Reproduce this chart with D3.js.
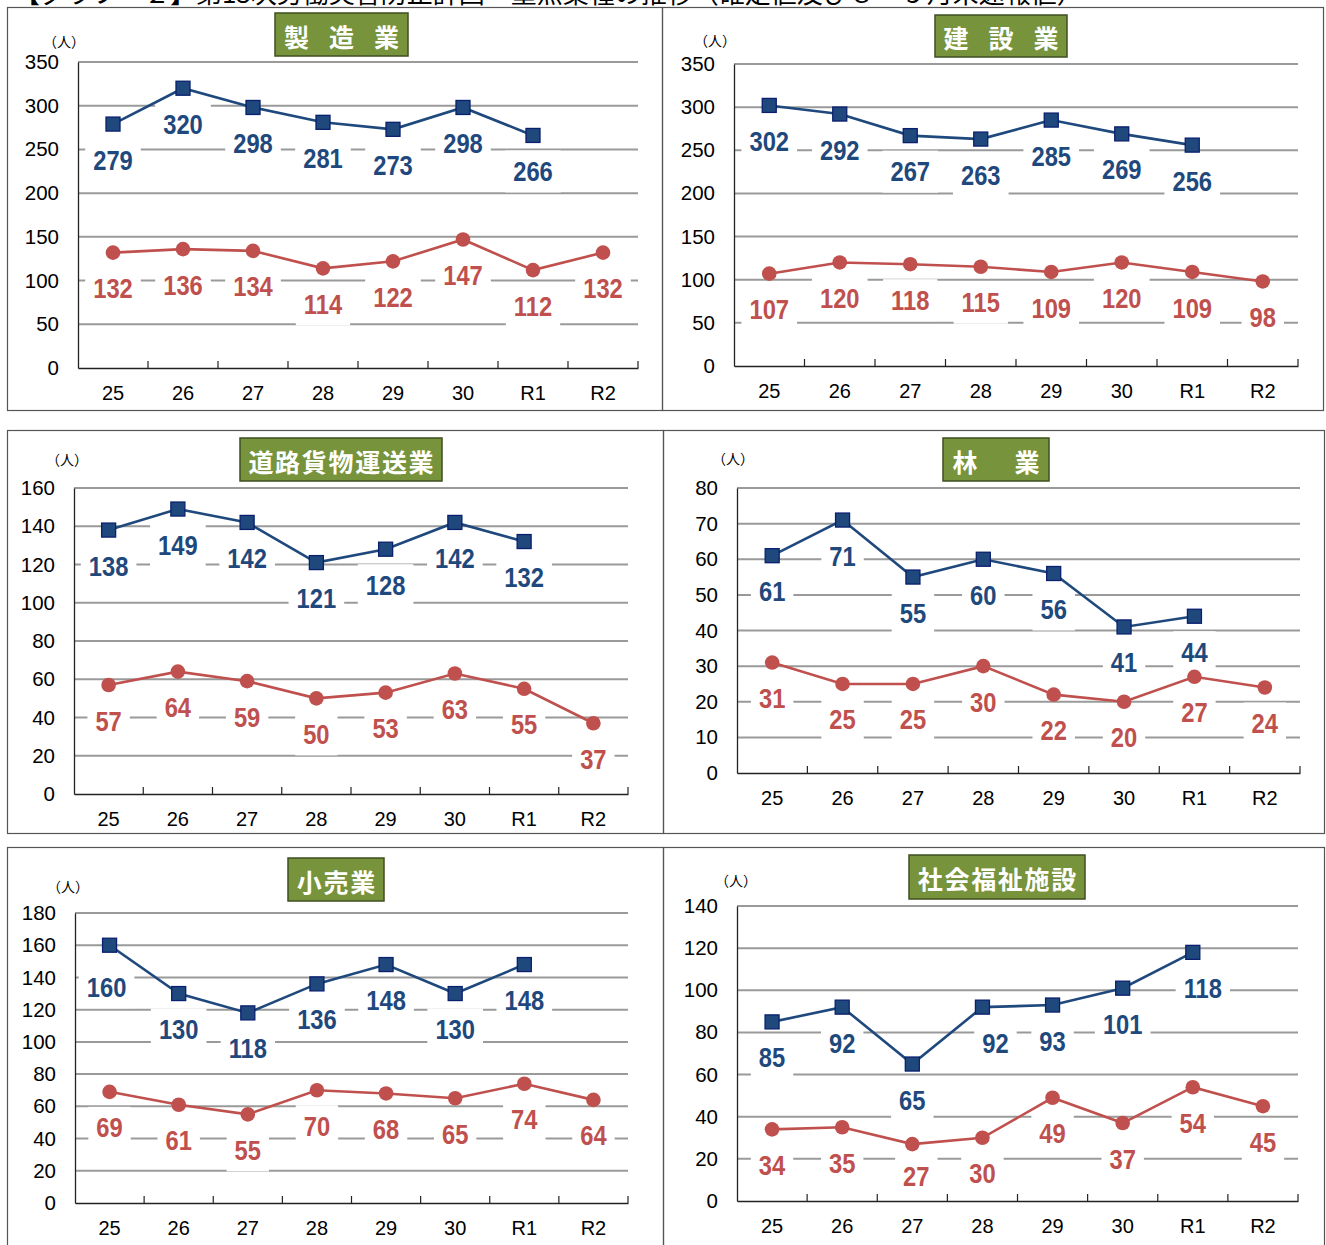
<!DOCTYPE html>
<html>
<head>
<meta charset="utf-8">
<script src="https://cdn.jsdelivr.net/npm/d3@7"></script>
<style>
  body { margin: 0; background: #fff; }
  svg text { font-family: "Liberation Sans", Arial, sans-serif; }
</style>
</head>
<body>
<div id="chart"></div>
<script>
const W = 1326, H = 1245;

// fiscal years (Heisei 25..30, Reiwa 1..2)
const years = ["25", "26", "27", "28", "29", "30", "R1", "R2"];

// blue = upper series, red = lower series (no blue value for R2)
const manufacturingBlue = [279, 320, 298, 281, 273, 298, 266, null];
const manufacturingRed  = [132, 136, 134, 114, 122, 147, 112, 132];
const constructionBlue  = [302, 292, 267, 263, 285, 269, 256, null];
const constructionRed   = [107, 120, 118, 115, 109, 120, 109, 98];
const truckingBlue      = [138, 149, 142, 121, 128, 142, 132, null];
const truckingRed       = [57, 64, 59, 50, 53, 63, 55, 37];
const forestryBlue      = [61, 71, 55, 60, 56, 41, 44, null];
const forestryRed       = [31, 25, 25, 30, 22, 20, 27, 24];
const retailBlue        = [160, 130, 118, 136, 148, 130, 148, null];
const retailRed         = [69, 61, 55, 70, 68, 65, 74, 64];
const welfareBlue       = [85, 92, 65, 92, 93, 101, 118, null];
const welfareRed        = [34, 35, 27, 30, 49, 37, 54, 45];

// y axis tick labels
const ticks350 = [0, 50, 100, 150, 200, 250, 300, 350];
const ticks160 = [0, 20, 40, 60, 80, 100, 120, 140, 160];
const ticks80  = [0, 10, 20, 30, 40, 50, 60, 70, 80];
const ticks180 = [0, 20, 40, 60, 80, 100, 120, 140, 160, 180];
const ticks140 = [0, 20, 40, 60, 80, 100, 120, 140];

const headerText = "【グラフ－２】第13次労働災害防止計画・重点業種の推移（確定値及び８・９月末速報値）";

const blue = "#1f497d", red = "#c0504d";
const gridColor = "#9a9a9a";

// layout: frame [x0,y0,x1,y1], plot [left,top,right,bottom], title box, unit label position
const panels = [
  { title: "製造業", pitch: 45, blue: manufacturingBlue, red: manufacturingRed, ticks: ticks350,
    frame: [7, 7, 662, 410], plot: [78, 62, 638, 368], box: [275, 13, 408, 56], unit: [64, 41] },
  { title: "建設業", pitch: 45, blue: constructionBlue, red: constructionRed, ticks: ticks350,
    frame: [662, 7, 1323, 410], plot: [734, 64, 1298, 366], box: [935, 15, 1067, 57], unit: [715, 40] },
  { title: "道路貨物運送業", pitch: 26.7, blue: truckingBlue, red: truckingRed, ticks: ticks160,
    frame: [7, 430, 663, 833], plot: [74, 488, 628, 794], box: [240, 438, 442, 481], unit: [67, 459] },
  { title: "林業", pitch: 62, blue: forestryBlue, red: forestryRed, ticks: ticks80,
    frame: [663, 430, 1324, 833], plot: [737, 488, 1300, 773], box: [943, 438, 1049, 481], unit: [733, 458] },
  { title: "小売業", pitch: 26.7, blue: retailBlue, red: retailRed, ticks: ticks180,
    frame: [7, 847, 663, 1252], plot: [75, 913, 628, 1203], box: [288, 858, 384, 901], unit: [68, 886],
    shift: { blue: { 0: [-3, 6] } } },
  { title: "社会福祉施設", pitch: 26.7, blue: welfareBlue, red: welfareRed, ticks: ticks140,
    frame: [663, 847, 1324, 1252], plot: [737, 906, 1298, 1201], box: [909, 855, 1085, 899], unit: [736, 880],
    shift: { blue: { 3: [13, 0], 6: [10, 0] }, red: { 2: [4, -4] } } }
];

const svg = d3.select("#chart").append("svg")
    .attr("width", W)
    .attr("height", H);

svg.append("rect").attr("width", W).attr("height", H).attr("fill", "#fff");

// header (mostly cut off at the top edge, as in the source)
svg.append("text")
    .attr("x", 14)
    .attr("y", 3)
    .style("font-family", "'Noto Sans CJK JP', sans-serif")
    .style("font-size", "26px")
    .attr("fill", "#000")
    .text(headerText);

panels.forEach(p => {
    const [fx0, fy0, fx1, fy1] = p.frame;
    const [left, top, right, bottom] = p.plot;
    const g = svg.append("g");

    g.append("rect")
        .attr("x", fx0 + 0.5).attr("y", fy0 + 0.5)
        .attr("width", fx1 - fx0).attr("height", fy1 - fy0)
        .attr("fill", "none")
        .attr("stroke", "#555")
        .attr("stroke-width", 1.2);

    const x = d3.scaleBand().domain(years).range([left, right]);
    const y = d3.scaleLinear().domain([0, d3.max(p.ticks)]).range([bottom, top]);
    const cx = d => x(d) + x.bandwidth() / 2;

    // gridlines
    g.append("g").selectAll("line")
        .data(p.ticks.filter(t => t > 0))
        .enter().append("line")
        .attr("x1", left).attr("x2", right)
        .attr("y1", d => y(d)).attr("y2", d => y(d))
        .attr("stroke", gridColor)
        .attr("stroke-width", 2);

    // y axis
    const yAxis = g.append("g")
        .attr("transform", `translate(${left},0)`)
        .call(d3.axisLeft(y).tickValues(p.ticks).tickSize(0).tickPadding(19));
    yAxis.select(".domain").attr("stroke", "#222").attr("stroke-width", 1.3);
    yAxis.selectAll("text").style("font-size", "20.5px").attr("fill", "#000");

    // x axis with ticks pointing up at category boundaries
    const xAxis = g.append("g")
        .attr("transform", `translate(0,${bottom})`)
        .call(d3.axisBottom(x).tickSize(0).tickPadding(18));
    xAxis.select(".domain").attr("stroke", "#222").attr("stroke-width", 1.3);
    xAxis.selectAll("text").style("font-size", "20px").attr("fill", "#000");
    g.append("g").selectAll("line")
        .data(years)
        .enter().append("line")
        .attr("x1", d => x(d) + x.bandwidth()).attr("x2", d => x(d) + x.bandwidth())
        .attr("y1", bottom).attr("y2", bottom - 7)
        .attr("stroke", "#222")
        .attr("stroke-width", 1.2);

    // unit label
    g.append("text")
        .attr("x", p.unit[0]).attr("y", p.unit[1])
        .attr("text-anchor", "middle")
        .attr("dominant-baseline", "central")
        .style("font-family", "'Noto Sans CJK JP', sans-serif")
        .style("font-size", "14px")
        .text("（人）");

    // title box
    const [bx0, by0, bx1, by1] = p.box;
    g.append("rect")
        .attr("x", bx0).attr("y", by0)
        .attr("width", bx1 - bx0).attr("height", by1 - by0)
        .attr("fill", "#77933c")
        .attr("stroke", "#3f4f20")
        .attr("stroke-width", 1.5);
    const chars = Array.from(p.title);
    const bcx = (bx0 + bx1) / 2;
    g.append("g").selectAll("text")
        .data(chars)
        .enter().append("text")
        .attr("x", (d, i) => bcx + (i - (chars.length - 1) / 2) * p.pitch)
        .attr("y", (by0 + by1) / 2 + 1)
        .attr("text-anchor", "middle")
        .attr("dominant-baseline", "central")
        .style("font-family", "'Noto Sans CJK JP', sans-serif")
        .style("font-size", "25px")
        .style("font-weight", "700")
        .attr("fill", "#fff")
        .text(d => d);

    const boxLayer = g.append("g");
    const seriesLayer = g.append("g");
    const labelLayer = g.append("g");

    const series = [
        { key: "blue", values: p.blue, color: blue },
        { key: "red", values: p.red, color: red }
    ];

    series.forEach(s => {
        const pts = years.map((yr, i) => ({ yr, i, v: s.values[i] })).filter(d => d.v != null);
        const line = d3.line().x(d => cx(d.yr)).y(d => y(d.v));

        seriesLayer.append("path")
            .datum(pts)
            .attr("d", line)
            .attr("fill", "none")
            .attr("stroke", s.color)
            .attr("stroke-width", 2.6);

        if (s.key === "blue") {
            seriesLayer.selectAll(null)
                .data(pts)
                .enter().append("rect")
                .attr("x", d => cx(d.yr) - 7).attr("y", d => y(d.v) - 7)
                .attr("width", 14).attr("height", 14)
                .attr("fill", blue)
                .attr("stroke", "#0a1f6e")
                .attr("stroke-width", 1.3);
        } else {
            seriesLayer.selectAll(null)
                .data(pts)
                .enter().append("circle")
                .attr("cx", d => cx(d.yr)).attr("cy", d => y(d.v))
                .attr("r", 7.3)
                .attr("fill", red);
        }

        // data labels: bold, slightly condensed, on a white patch that breaks the gridlines
        const shifts = (p.shift && p.shift[s.key]) || {};
        pts.forEach(d => {
            const sh = shifts[d.i] || [0, 0];
            const lx = cx(d.yr) + sh[0];
            const ly = y(d.v) + 36 + sh[1];
            const t = labelLayer.append("text")
                .attr("transform", `translate(${lx},${ly}) scale(0.88,1)`)
                .attr("text-anchor", "middle")
                .attr("dominant-baseline", "central")
                .style("font-size", "27px")
                .style("font-weight", "700")
                .attr("fill", s.color)
                .text(d.v);
            const w = t.node().getComputedTextLength() * 0.88;
            boxLayer.append("rect")
                .attr("x", lx - w / 2 - 8).attr("y", ly - 21)
                .attr("width", w + 16).attr("height", 42)
                .attr("fill", "#fff");
        });
    });
});
</script>
</body>
</html>
